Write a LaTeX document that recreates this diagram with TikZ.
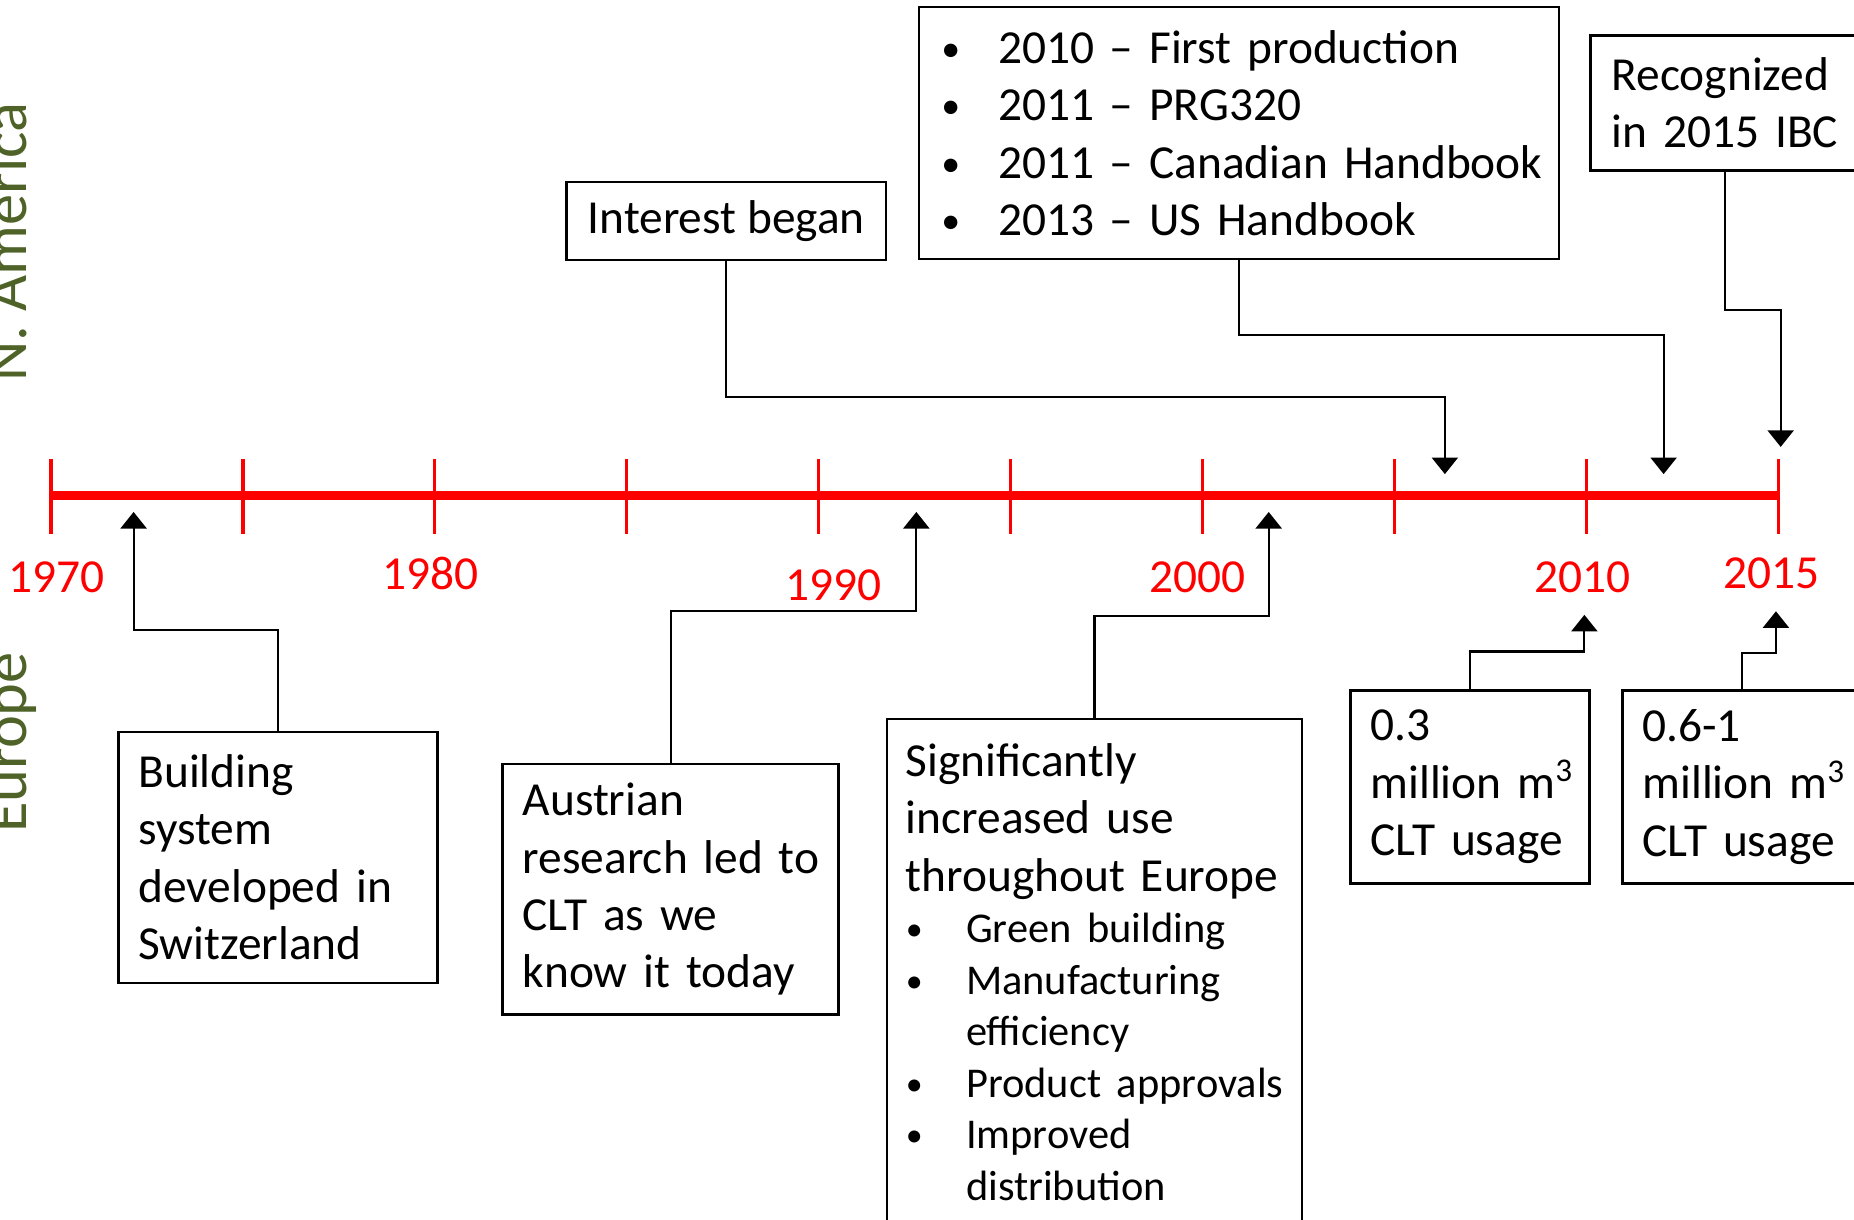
\documentclass[tikz,border=0pt]{standalone}
\usepackage{fontspec}
\setmainfont{Carlito}
\usetikzlibrary{arrows.meta}

\definecolor{regiongreen}{RGB}{79,98,40}
\newcommand{\bitem}[2]{\mbox{\makebox[#1][l]{\raisebox{0.5pt}{\scalebox{0.8}{\textbullet}}}#2}}

\begin{document}
\begin{tikzpicture}[
    x=0.01cm, y=-0.01cm,
    box/.style={draw=black, line width=0.6pt, anchor=north west, align=left, inner xsep=0.17cm, inner ysep=0pt, font=\fontsize{11.4}{13.8}\selectfont},
    year/.style={text=red, inner sep=0pt, font=\fontsize{11.4}{13.8}\selectfont},
    region/.style={rotate=90, anchor=base, inner sep=0pt, text=regiongreen, font=\fontsize{15}{18}\selectfont},
    timeline/.style={red, line width=2pt},
    yeartick/.style={red, line width=0.85pt},
    conn/.style={-{Triangle[width=0.22cm, length=0.14cm]}, line width=0.5pt, black}
    ]
    \useasboundingbox (0,0) rectangle (1568,1031);
    \clip (0,0) rectangle (1568,1031);

    % Timeline with ticks every five years
    \coordinate (t1970) at (43,419);
    \coordinate (t2015) at (1504,419);
    \draw[timeline] (t1970) -- (t2015);
    \foreach \i in {0,...,9}
        \draw[yeartick] ({43+162.33*\i},388) -- ({43+162.33*\i},452);

    % Year labels
    \node[year] (y1970) at (48,488) {1970};
    \node[year] (y1980) at (364,485) {1980};
    \node[year] (y1990) at (705,495) {1990};
    \node[year] (y2000) at (1013,488) {2000};
    \node[year] (y2010) at (1338,488) {2010};
    \node[year] (y2015) at (1498,485) {2015};

    % Region labels
    \node[region] (namerica) at (22.6,205) {N. America};
    \node[region] (eu) at (22.6,628) {Europe};

    % N. America events
    \node[box, align=center, inner xsep=0pt, minimum width=2.7cm, minimum height=0.66cm] (interest) at (478,153) {Interest began};
    \node[box, text width=5.03cm, inner xsep=0.19cm, minimum height=2.13cm] (milestones) at (776,5) {
        \bitem{0.48cm}{2010 -- First production}\\
        \bitem{0.48cm}{2011 -- PRG320}\\
        \bitem{0.48cm}{2011 -- Canadian Handbook}\\
        \bitem{0.48cm}{2013 -- US Handbook}};
    \node[box, text width=1.92cm, inner xsep=0.18cm, minimum height=1.14cm] (ibc) at (1344,29) {Recognized\\in~2015~IBC};

    % Europe events
    \node[box, text width=2.36cm, minimum height=2.12cm] (swiss) at (99,618) {Building\\system\\developed~in\\Switzerland};
    \node[box, text width=2.50cm, minimum height=2.12cm] (austria) at (424,645) {Austrian\\research~led~to\\CLT~as~we\\know~it~today};
    \node[box, text width=3.19cm, inner xsep=0.16cm, minimum height=4.28cm] (europe) at (749,607) {
        Significantly\\increased~use\\throughout~Europe\par
        {\fontsize{10.2}{12.4}\selectfont
        \bitem{0.51cm}{Green building}\\
        \bitem{0.51cm}{Manufacturing}\\
        \hspace*{0.51cm}efficiency\\
        \bitem{0.51cm}{Product approvals}\\
        \bitem{0.51cm}{Improved}\\
        \hspace*{0.51cm}distribution\par}};
    \node[box, text width=1.68cm, minimum height=1.63cm] (usage03) at (1141,583) {0.3\\million~m\textsuperscript{3}\\CLT~usage};
    \node[box, text width=1.68cm, minimum height=1.63cm] (usage06) at (1371,583) {0.6-1\\million~m\textsuperscript{3}\\CLT~usage};

    % Arrow tips on the timeline
    \coordinate (tipInterest) at (1222,401);
    \coordinate (tipMilestones) at (1407,401);
    \coordinate (tipIbc) at (1506,378);
    \coordinate (tipSwiss) at (113,433);
    \coordinate (tipAustria) at (775,433);
    \coordinate (tipEurope) at (1073,433);
    \coordinate (tipUsage03) at (1340,520);
    \coordinate (tipUsage06) at (1502,517);

    % Connectors
    \draw[conn] (interest.south) -- ++(0,115) -| (tipInterest);
    \draw[conn] (milestones.south) -- ++(0,63) -| (tipMilestones);
    \draw[conn] (ibc.south) -- ++(0,117) -| (tipIbc);
    \draw[conn] (swiss.north) -- ++(0,-85) -| (tipSwiss);
    \draw[conn] (austria.north) -- ++(0,-128) -| (tipAustria);
    \draw[conn] (europe.north) -- ++(0,-86) -| (tipEurope);
    \draw[conn] (usage03.north) -- ++(0,-32) -| (tipUsage03);
    \draw[conn] (usage06.north) -- ++(0,-31) -| (tipUsage06);

\end{tikzpicture}
\end{document}
